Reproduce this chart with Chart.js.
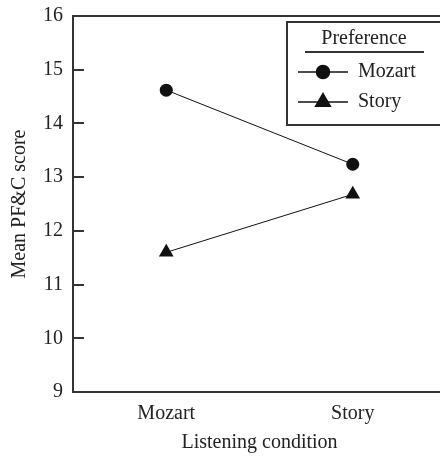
<!DOCTYPE html>
<html>
<head>
<meta charset="utf-8">
<script src="https://cdn.jsdelivr.net/npm/chart.js@4"></script>
<style>
  html, body { margin: 0; padding: 0; background: #fff; overflow: hidden; }
  canvas { display: block; }
</style>
</head>
<body>
<canvas id="chart" width="460" height="457"></canvas>
<script>
  const conditions = ['Mozart', 'Story'];
  const mozartPref = [14.62, 13.24];
  const storyPref = [11.6, 12.68];
  const yMin = 9;
  const yMax = 16;

  const serif = '"Liberation Serif", "DejaVu Serif", serif';
  const ink = '#222';

  // frame, inward y ticks and the boxed legend
  const framePlugin = {
    id: 'frame',
    afterDraw(chart) {
      const ctx = chart.ctx;
      const area = chart.chartArea;
      const y = chart.scales.y;
      ctx.save();
      ctx.strokeStyle = '#333';
      ctx.lineWidth = 2;
      ctx.strokeRect(area.left, area.top, area.right - area.left, area.bottom - area.top);

      y.ticks.forEach((t) => {
        const py = Math.round(y.getPixelForValue(t.value));
        ctx.beginPath();
        ctx.moveTo(area.left, py);
        ctx.lineTo(area.left + 11, py);
        ctx.stroke();
      });

      // legend
      const box = { left: 287, top: 22, right: 452, bottom: 125 };
      ctx.strokeRect(box.left, box.top, box.right - box.left, box.bottom - box.top);
      ctx.fillStyle = ink;
      ctx.font = '20px ' + serif;
      ctx.textAlign = 'center';
      ctx.textBaseline = 'alphabetic';
      ctx.fillText('Preference', 364, 44);
      ctx.beginPath();
      ctx.moveTo(305, 52);
      ctx.lineTo(424, 52);
      ctx.stroke();

      const rows = [72, 102];
      chart.data.datasets.forEach((ds, i) => {
        const ry = rows[i];
        ctx.strokeStyle = '#111';
        ctx.lineWidth = 1.5;
        ctx.beginPath();
        ctx.moveTo(298, ry);
        ctx.lineTo(348, ry);
        ctx.stroke();
        Chart.helpers.drawPoint(ctx, {
          pointStyle: ds.pointStyle,
          radius: ds.pointRadius,
          borderWidth: 1
        }, 323, ry);
        ctx.fillStyle = '#111';
        ctx.fill();
        ctx.fillStyle = ink;
        ctx.textAlign = 'left';
        ctx.fillText(ds.label, 358, ry + 5);
      });
      ctx.restore();
    }
  };

  new Chart(document.getElementById('chart'), {
    type: 'line',
    data: {
      labels: conditions,
      datasets: [
        {
          label: 'Mozart',
          data: mozartPref,
          borderColor: '#111',
          backgroundColor: '#111',
          borderWidth: 1,
          pointStyle: 'circle',
          pointRadius: 6.5,
          pointBorderWidth: 0
        },
        {
          label: 'Story',
          data: storyPref,
          borderColor: '#111',
          backgroundColor: '#111',
          borderWidth: 1,
          pointStyle: 'triangle',
          pointRadius: 8.5,
          pointBorderWidth: 0
        }
      ]
    },
    options: {
      responsive: false,
      animation: false,
      layout: { padding: { top: 16, right: 14, left: 0, bottom: 0 } },
      plugins: {
        legend: { display: false },
        tooltip: { enabled: false }
      },
      scales: {
        x: {
          offset: true,
          grid: { display: false, drawTicks: false },
          border: { display: false },
          ticks: { color: ink, font: { family: serif, size: 20 }, padding: 10 },
          title: {
            display: true,
            text: 'Listening condition',
            color: ink,
            font: { family: serif, size: 20 },
            padding: { top: 0, bottom: 2 }
          },
          afterFit(scale) { scale.height = 65; }
        },
        y: {
          min: yMin,
          max: yMax,
          grid: { display: false, drawTicks: false },
          border: { display: false },
          ticks: { stepSize: 1, color: ink, font: { family: serif, size: 20 }, padding: 10 },
          title: {
            display: true,
            text: 'Mean PF&C score',
            color: ink,
            font: { family: serif, size: 20 },
            padding: { top: 8, bottom: 0 }
          },
          afterFit(scale) {
            scale.width = 73;
            scale.paddingTop = 0;
            scale.paddingBottom = 0;
          }
        }
      }
    },
    plugins: [framePlugin]
  });
</script>
</body>
</html>
